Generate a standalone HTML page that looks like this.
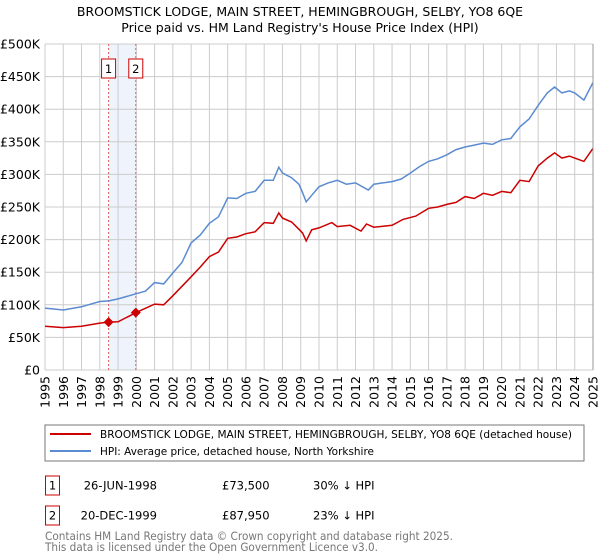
<!DOCTYPE html>
<html><head><meta charset="utf-8"><style>
body{margin:0;background:#fff;font-family:"DejaVu Sans","Liberation Sans",sans-serif;}
svg{display:block}
</style></head><body>
<svg id="chart" width="600" height="560" xmlns="http://www.w3.org/2000/svg">
<text x="300" y="16" text-anchor="middle" font-size="12.5" fill="#000">BROOMSTICK LODGE, MAIN STREET, HEMINGBROUGH, SELBY, YO8 6QE</text>
<text x="300" y="32" text-anchor="middle" font-size="12.5" fill="#000">Price paid vs. HM Land Registry's House Price Index (HPI)</text>
<g id="grid"></g><g id="marks"></g><g id="axes"></g>
<rect x="45" y="425" width="539" height="36" fill="#fff" stroke="#777"/>
<line x1="50" y1="434" x2="91" y2="434" stroke="#cc0000" stroke-width="2"/>
<text x="100" y="438" font-size="11" textLength="472" lengthAdjust="spacingAndGlyphs">BROOMSTICK LODGE, MAIN STREET, HEMINGBROUGH, SELBY, YO8 6QE (detached house)</text>
<line x1="50" y1="451" x2="91" y2="451" stroke="#5b8bd0" stroke-width="2"/>
<text x="100" y="455" font-size="11" textLength="274" lengthAdjust="spacingAndGlyphs">HPI: Average price, detached house, North Yorkshire</text>
<g>
<rect x="45.5" y="476" width="14" height="19" fill="#fff" stroke="#cc0000"/>
<text x="52.5" y="489.5" text-anchor="middle" font-size="11.5">1</text>
<text x="157" y="489.5" text-anchor="end" font-size="11.5">26-JUN-1998</text>
<text x="222" y="489.5" font-size="11.5">£73,500</text>
<text x="313" y="489.5" font-size="11.5">30% ↓ HPI</text></g>
<g>
<rect x="45.5" y="506" width="14" height="19" fill="#fff" stroke="#cc0000"/>
<text x="52.5" y="519.5" text-anchor="middle" font-size="11.5">2</text>
<text x="157" y="519.5" text-anchor="end" font-size="11.5">20-DEC-1999</text>
<text x="222" y="519.5" font-size="11.5">£87,950</text>
<text x="313" y="519.5" font-size="11.5">23% ↓ HPI</text></g>
<text x="45" y="540" font-size="11.5" fill="#777" textLength="408" lengthAdjust="spacingAndGlyphs">Contains HM Land Registry data © Crown copyright and database right 2025.</text>
<text x="45" y="551" font-size="11.5" fill="#777" textLength="333" lengthAdjust="spacingAndGlyphs">This data is licensed under the Open Government Licence v3.0.</text>
</svg>
<script>
const yTicks=[0,50,100,150,200,250,300,350,400,450,500];
const yTickLabels=["£0","£50K","£100K","£150K","£200K","£250K","£300K","£350K","£400K","£450K","£500K"];
const years=[1995,1996,1997,1998,1999,2000,2001,2002,2003,2004,2005,2006,2007,2008,2009,2010,2011,2012,2013,2014,2015,2016,2017,2018,2019,2020,2021,2022,2023,2024,2025];
const hpiT=[1995,1996,1997,1998,1998.5,1999,2000,2000.5,2001,2001.5,2002,2002.5,2003,2003.5,2004,2004.5,2005,2005.5,2006,2006.5,2007,2007.5,2007.8,2008,2008.5,2008.9,2009.1,2009.3,2009.6,2010,2010.5,2011,2011.5,2012,2012.7,2013,2014,2014.5,2015,2015.5,2016,2016.5,2017,2017.5,2018,2018.5,2019,2019.5,2020,2020.5,2021,2021.5,2022,2022.5,2022.9,2023.3,2023.7,2024,2024.5,2025];
const hpiV=[95,92,97,105,106,109,117,121,134,132,149,165,195,207,225,235,264,263,271,274,291,291,311,302,295,285,272,258,268,281,287,291,285,287,276,285,289,293,302,312,320,324,330,338,342,345,348,346,353,355,373,385,406,425,434,425,428,425,414,441];
const priceT=[1995,1996,1997,1998,1998.48,1999,1999.97,2001,2001.5,2002,2003,2003.5,2004,2004.5,2005,2005.5,2006,2006.5,2007,2007.5,2007.8,2008,2008.5,2008.9,2009.1,2009.3,2009.6,2010,2010.7,2011,2011.7,2012.3,2012.6,2013,2014,2014.6,2015.3,2016,2016.5,2017,2017.5,2018,2018.5,2019,2019.5,2020,2020.5,2021,2021.5,2022,2022.5,2022.9,2023.3,2023.7,2024,2024.5,2025];
const priceV=[67,65,67,72,73.5,74,87.95,101,100,114,143,158,174,181,202,204,209,212,226,225,241,233,227,216,210,198,215,218,226,220,222,213,224,219,222,231,236,248,250,254,257,266,263,271,268,274,272,291,289,313,325,333,325,328,325,320,340];
const saleT=[1998.48,1999.97];
const saleV=[73.5,87.95];
const saleLabels=["1","2"];
const X0=45,X1=593,Y0=370,Y1=44;
const xs=t=>X0+(t-1995)/30*(X1-X0);
const ys=v=>Y0-v/500*(Y0-Y1);
const NS="http://www.w3.org/2000/svg";
function mk(tag,attrs,parent){const e=document.createElementNS(NS,tag);for(const k in attrs)e.setAttribute(k,attrs[k]);parent.appendChild(e);return e;}
const grid=document.getElementById('grid'),marks=document.getElementById('marks'),axes=document.getElementById('axes');
let band=mk('rect',{x:xs(saleT[0]),y:Y1,width:xs(saleT[1])-xs(saleT[0]),height:Y0-Y1,fill:'#eef3fc'},grid);


yTicks.forEach((v,i)=>{
 let l=mk('line',{x1:X0,x2:X1,y1:ys(v),y2:ys(v),stroke:'#ccc'},grid);
 
 
 let t=mk('text',{x:X0-5,y:ys(v)+4.5,'text-anchor':'end','font-size':'12.5'},axes);
 t.textContent=yTickLabels[i];
 
 
});
years.forEach(y=>{
 let l=mk('line',{x1:xs(y),x2:xs(y),y1:Y1,y2:Y0,stroke:'#ccc'},grid);
 
 
 let t=mk('text',{x:0,y:0,'text-anchor':'end','font-size':'12.5',transform:`translate(${xs(y)+4.5},376) rotate(-90)`},axes);
 t.textContent=y;
 
 
});
saleT.forEach((t,i)=>{
 let l=mk('line',{x1:xs(t),x2:xs(t),y1:Y1,y2:Y0,stroke:'#e06060','stroke-dasharray':'2,2'},grid);
 
 
 let r=mk('rect',{x:xs(t)-7,y:59,width:14,height:19,fill:'#fff',stroke:'#cc0000'},axes);
 
 
 let tx=mk('text',{x:xs(t),y:73,'text-anchor':'middle','font-size':'11.5'},axes);
 tx.textContent=saleLabels[i];
 
 
});
function pathOf(T,V){return T.map((t,i)=>(i?'L':'M')+xs(t).toFixed(1)+','+ys(V[i]).toFixed(1)).join('');}
let hp=mk('path',{d:pathOf(hpiT,hpiV),fill:'none',stroke:'#5b8bd0','stroke-width':1.5},marks);


let pp=mk('path',{d:pathOf(priceT,priceV),fill:'none',stroke:'#cc0000','stroke-width':1.5},marks);


saleT.forEach((t,i)=>{
 let c=mk('path',{d:`M${xs(t)},${ys(saleV[i])-5}l5,5l-5,5l-5,-5z`,fill:'#cc0000'},marks);
 
 
});
let ax=mk('line',{x1:X1,x2:X1,y1:Y1,y2:Y0,stroke:'#999'},axes);


</script>
</body></html>
